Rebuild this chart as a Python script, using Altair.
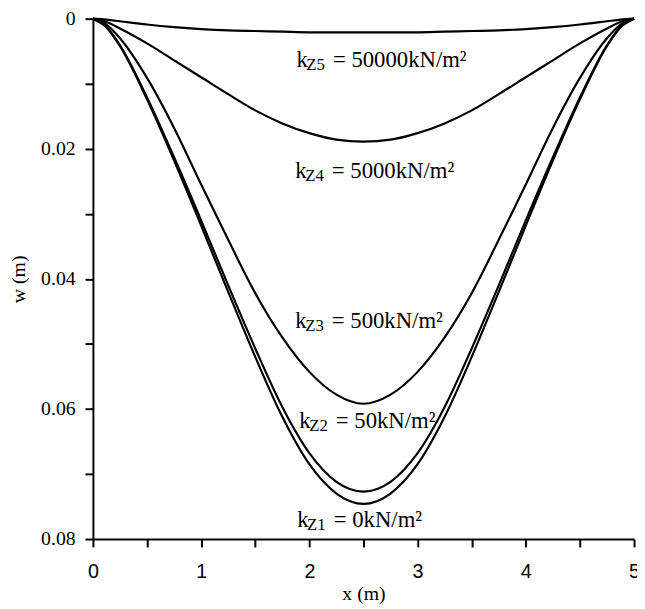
import altair as alt
import pandas as pd

# positions along the beam (m)
x_vals = [0, 0.125, 0.25, 0.5, 0.75, 1.0, 1.25, 1.5, 1.75, 2.0, 2.25, 2.5,
          2.75, 3.0, 3.25, 3.5, 3.75, 4.0, 4.25, 4.5, 4.75, 4.875, 5.0]

# deflection w (m)
w_kz1 = [0, 0.0013, 0.0042, 0.0124, 0.0218, 0.0318, 0.0420, 0.0520, 0.0612, 0.0685, 0.0730, 0.0746,
         0.0730, 0.0685, 0.0612, 0.0520, 0.0420, 0.0318, 0.0218, 0.0124, 0.0042, 0.0013, 0]
w_kz2 = [0, 0.0013, 0.0041, 0.0121, 0.0213, 0.0310, 0.0410, 0.0507, 0.0597, 0.0668, 0.0712, 0.0727,
         0.0712, 0.0668, 0.0597, 0.0507, 0.0410, 0.0310, 0.0213, 0.0121, 0.0041, 0.0013, 0]
w_kz3 = [0, 0.0009, 0.0030, 0.0091, 0.0168, 0.0255, 0.0340, 0.0422, 0.0490, 0.0543, 0.0578, 0.0592,
         0.0578, 0.0543, 0.0490, 0.0422, 0.0340, 0.0255, 0.0168, 0.0091, 0.0030, 0.0009, 0]
w_kz4 = [0, 0.0005, 0.0015, 0.0038, 0.0064, 0.0090, 0.0116, 0.0141, 0.0161, 0.0176, 0.0186, 0.0189,
         0.0186, 0.0176, 0.0161, 0.0141, 0.0116, 0.0090, 0.0064, 0.0038, 0.0015, 0.0005, 0]
w_kz5 = [0, 0.00015, 0.0004, 0.0009, 0.0013, 0.0016, 0.0018, 0.0019, 0.0020, 0.0021, 0.0021, 0.0021,
         0.0021, 0.0021, 0.0020, 0.0019, 0.0018, 0.0016, 0.0013, 0.0009, 0.0004, 0.00015, 0]

series_names = ["kz1", "kz2", "kz3", "kz4", "kz5"]
series_values = [w_kz1, w_kz2, w_kz3, w_kz4, w_kz5]

# curve labels
label_x = [1.888, 1.907, 1.870, 1.870, 1.880]
label_w = [0.0782, 0.0630, 0.0476, 0.02456, 0.00744]
label_k = ["k", "k", "k", "k", "k"]
label_sub = ["Z1", "Z2", "Z3", "Z4", "Z5"]
label_rest = ["= 0kN/m²", "= 50kN/m²", "= 500kN/m²", "= 5000kN/m²", "= 50000kN/m²"]

x_ticks = [0, 0.5, 1, 1.5, 2, 2.5, 3, 3.5, 4, 4.5, 5]
y_ticks = [0, 0.01, 0.02, 0.03, 0.04, 0.05, 0.06, 0.07, 0.08]

rows = []
for name, vals in zip(series_names, series_values):
    for xv, wv in zip(x_vals, vals):
        rows.append({"series": name, "x": xv, "w": wv})
df = pd.DataFrame(rows)

lab = pd.DataFrame({"x": label_x, "w": label_w, "k": label_k,
                    "sub": label_sub, "rest": label_rest})

xscale = alt.Scale(domain=[0, 5], nice=False)
yscale = alt.Scale(domain=[0, 0.08], reverse=True, nice=False, zero=False)

xaxis = alt.Axis(values=x_ticks,
                 labelExpr="datum.value % 1 === 0 ? format(datum.value, 'd') : ''",
                 labelFont="Liberation Sans", labelFontSize=20, labelPadding=15,
                 labelFlush=False, labelOverlap=False, labelBound=False,
                 titleFont="Liberation Serif", titleFontSize=20, titlePadding=2)
yaxis = alt.Axis(values=y_ticks,
                 labelExpr="round(datum.value * 100) % 2 === 0 ? format(datum.value, '~g') : ''",
                 labelFont="Liberation Serif", labelFontSize=20, labelPadding=10,
                 labelFlush=False, labelOverlap=False, labelBound=False,
                 titleFont="Liberation Serif", titleFontSize=20, titlePadding=12)

lines = alt.Chart(df).mark_line(color="black", strokeWidth=2.2, interpolate="monotone").encode(
    x=alt.X("x:Q", scale=xscale, axis=xaxis, title="x (m)"),
    y=alt.Y("w:Q", scale=yscale, axis=yaxis, title="w (m)"),
    detail="series:N",
)

t_k = alt.Chart(lab).mark_text(align="left", baseline="alphabetic", font="Liberation Serif",
                               fontSize=23, color="black").encode(
    x="x:Q", y="w:Q", text="k:N")
t_sub = alt.Chart(lab).mark_text(align="left", baseline="alphabetic", font="Liberation Serif",
                                 fontSize=17, color="black", dx=10, dy=3).encode(
    x="x:Q", y="w:Q", text="sub:N")
t_rest = alt.Chart(lab).mark_text(align="left", baseline="alphabetic", font="Liberation Serif",
                                  fontSize=23, color="black", dx=37).encode(
    x="x:Q", y="w:Q", text="rest:N")

chart = alt.layer(lines, t_k, t_sub, t_rest).properties(
    width=548, height=527,
    padding={"left": 86, "top": 7, "right": 3, "bottom": 64},
    autosize="none",
    background="white",
).configure_view(stroke=None).configure_axis(
    domainColor="black", domainWidth=2, tickColor="black", tickWidth=2, tickSize=8,
    grid=False, labelColor="black", titleColor="black", titleFontWeight="normal",
)

chart.save("out.html", embed_options={"renderer": "svg", "actions": False})
